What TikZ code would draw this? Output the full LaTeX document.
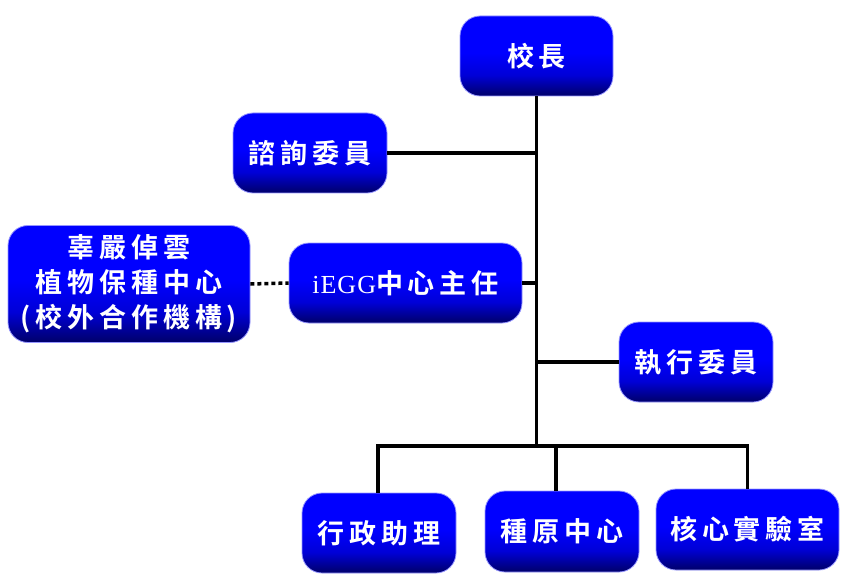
\documentclass[tikz,border=0pt]{standalone}
\usepackage{fontspec}
\newfontfamily\cjk{Noto Sans CJK TC Bold}[LetterSpace=18]
\newfontfamily\lat{Liberation Serif}[LetterSpace=4]
\definecolor{bnavy}{RGB}{0,0,105}
\definecolor{bmid}{RGB}{0,0,215}
\definecolor{bblue}{RGB}{0,0,255}
\definecolor{bedge}{RGB}{150,150,255}
\pgfdeclareverticalshading{boxshade}{100bp}{color(0bp)=(bnavy); color(25bp)=(bnavy); color(38bp)=(bmid); color(52bp)=(bblue); color(100bp)=(bblue)}
\tikzset{
  orgbox/.style={draw=bedge, line width=0.8pt, shading=boxshade, rounded corners=20pt,
    inner sep=0pt, text=white, align=center, font=\cjk\fontsize{27}{35}\selectfont},
  conn/.style={line width=3.5pt, black},
  dotconn/.style={line width=3.5pt, black, dash pattern=on 4pt off 3pt}
}
\begin{document}
\begin{tikzpicture}[x=1pt,y=-1pt]
\useasboundingbox (0,0) rectangle (848,580);
\node[orgbox, minimum width=153pt, minimum height=80pt] (head) at (536.5,56) {校長};
\node[orgbox, minimum width=154pt, minimum height=80pt] (adv) at (310,153) {諮詢委員};
\node[orgbox, minimum width=242pt, minimum height=117pt] (ext) at (129,284) {辜嚴倬雲\\植物保種中心\\(校外合作機構)};
\node[orgbox, minimum width=233pt, minimum height=80pt] (dir) at (405.5,283) {{\lat\fontsize{26}{30}\selectfont iEGG}中心主任};
\node[orgbox, minimum width=154pt, minimum height=80pt] (exe) at (696,362) {執行委員};
\node[orgbox, minimum width=154pt, minimum height=80pt] (adm) at (379,533) {行政助理};
\node[orgbox, minimum width=154pt, minimum height=81pt] (seed) at (562,531.5) {種原中心};
\node[orgbox, minimum width=183pt, minimum height=81pt] (core) at (747.5,529.5) {核心實驗室};
\coordinate (bar) at (536.5,446);
\coordinate (barL) at (378,446);
\coordinate (barM) at (556,446);
\coordinate (barR) at (747.5,446);
\draw[conn] (head.south) -- (bar);
\draw[conn] (adv.east) -- (adv.east -| bar);
\draw[conn] (dir.east) -- (dir.east -| bar);
\draw[conn] (exe.west) -- (exe.west -| bar);
\draw[conn] ([xshift=-1.75pt]barL) -- ([xshift=1.75pt]barR);
\draw[conn] (barL) -- (barL |- adm.north);
\draw[conn] (barM) -- (barM |- seed.north);
\draw[conn] (barR) -- (core.north);
\draw[dotconn] (ext.east) -- (dir.west);
\end{tikzpicture}
\end{document}
